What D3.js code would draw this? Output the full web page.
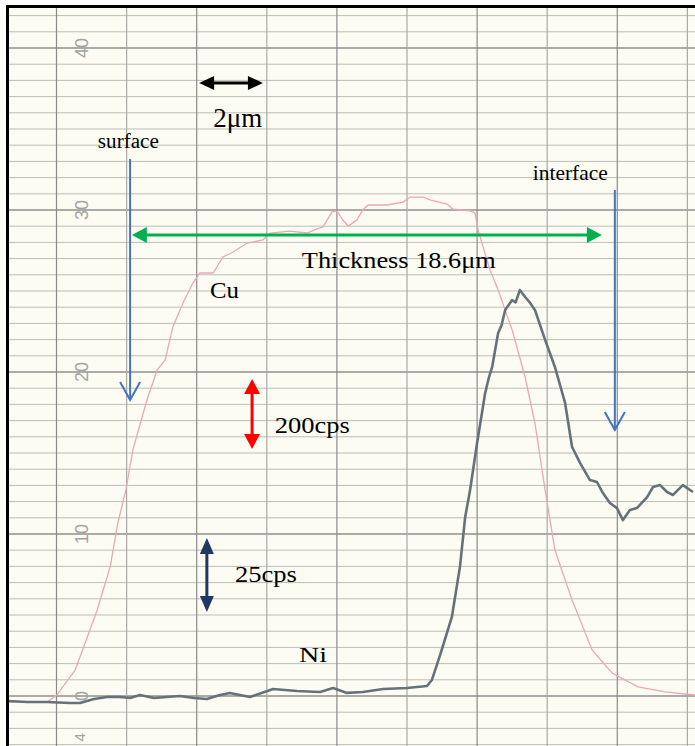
<!DOCTYPE html>
<html>
<head>
<meta charset="utf-8">
<script src="https://cdn.jsdelivr.net/npm/d3@7/dist/d3.min.js"></script>
<style>
  body { margin: 0; background: #fff; }
  svg { display: block; }
</style>
</head>
<body>
<svg id="chart"></svg>
<script>
// depth in µm (2 µm per chart division), signal in chart divisions
const cuX = [-1.41, -0.84, -0.27, 0.01, 0.53, 0.67, 1.16, 1.53, 1.75, 1.98, 2.18, 2.58, 2.87, 3.10, 3.32, 3.61, 3.89, 4.09, 4.47, 4.75, 5.04, 5.44, 5.89, 6.09, 6.66, 7.15, 7.43, 7.60, 7.72, 7.86, 8.00, 8.17, 8.32, 8.57, 8.74, 8.89, 9.43, 9.89, 10.09, 10.46, 10.66, 11.14, 11.31, 11.80, 11.94, 12.03, 12.17, 12.37, 12.60, 13.00, 13.37, 13.65, 13.94, 14.22, 14.71, 15.28, 15.85, 16.59, 17.36, 18.22];
const cuY = [-0.37, -0.37, -0.37, 0.06, 1.60, 2.41, 5.31, 7.96, 10.68, 12.72, 15.19, 18.27, 20.12, 20.74, 22.78, 24.26, 25.49, 26.11, 26.11, 27.10, 27.41, 27.96, 28.15, 28.58, 28.70, 28.58, 28.83, 28.95, 29.38, 29.88, 29.94, 29.38, 29.01, 29.38, 30.00, 30.31, 30.31, 30.49, 30.80, 30.80, 30.62, 30.37, 30.06, 29.94, 29.81, 28.77, 27.72, 26.30, 25.06, 22.59, 19.69, 16.85, 12.72, 9.01, 5.93, 2.84, 1.42, 0.56, 0.25, 0.06];

const niX = [-1.41, -0.84, -0.27, 0.39, 0.67, 1.07, 1.44, 1.81, 2.10, 2.38, 2.78, 3.15, 3.52, 3.92, 4.29, 4.66, 4.95, 5.52, 6.18, 6.86, 7.52, 7.89, 8.29, 8.74, 9.32, 10.00, 10.57, 10.71, 10.85, 10.99, 11.28, 11.51, 11.66, 11.80, 12.00, 12.23, 12.33, 12.43, 12.60, 12.70, 12.80, 13.00, 13.10, 13.22, 13.37, 13.50, 13.65, 13.94, 14.22, 14.51, 14.71, 14.94, 15.22, 15.42, 15.59, 15.79, 15.99, 16.16, 16.36, 16.56, 16.85, 17.02, 17.22, 17.42, 17.59, 17.87, 18.16];
const niY = [-0.31, -0.37, -0.37, -0.43, -0.43, -0.19, -0.06, -0.06, -0.12, 0.06, -0.12, -0.06, 0.00, -0.12, -0.19, 0.06, 0.19, -0.06, 0.43, 0.31, 0.25, 0.49, 0.19, 0.25, 0.43, 0.49, 0.62, 0.99, 1.91, 2.84, 4.88, 7.96, 11.05, 12.72, 15.62, 18.70, 19.60, 20.31, 22.41, 22.90, 23.83, 24.44, 24.30, 25.06, 24.63, 24.30, 23.83, 21.98, 20.31, 18.09, 15.37, 14.38, 13.33, 13.21, 12.53, 11.91, 11.60, 10.86, 11.48, 11.60, 12.28, 12.90, 13.02, 12.59, 12.41, 13.02, 12.59];

const yTickValues = [0, 10, 20, 30, 40];
const yTickLabels = ["0", "10", "20", "30", "40"];

const W = 695, H = 746;
const paper = {left: 8, top: 7, right: 695, bottom: 746};

const svg = d3.select("#chart").attr("width", W).attr("height", H);

const xScale = d3.scaleLinear().domain([0, 18]).range([56.5, 687.4]);
const yScale = d3.scaleLinear().domain([0, 40]).range([696, 48]);

svg.append("defs").append("clipPath").attr("id", "clip")
  .append("rect")
  .attr("x", paper.left).attr("y", paper.top)
  .attr("width", paper.right - paper.left).attr("height", paper.bottom - paper.top);

svg.append("rect")
  .attr("x", paper.left).attr("y", paper.top)
  .attr("width", paper.right - paper.left).attr("height", paper.bottom - paper.top)
  .attr("fill", "#fcfcf3");

const g = svg.append("g").attr("clip-path", "url(#clip)");

// horizontal rulings
g.selectAll(".hline")
  .data(d3.range(-3, 43))
  .enter().append("line")
  .attr("x1", paper.left).attr("x2", paper.right)
  .attr("y1", d => yScale(d)).attr("y2", d => yScale(d))
  .attr("stroke", d => d % 10 === 0 ? "#8f8f8f" : "#bdbdb8")
  .attr("stroke-width", d => d % 10 === 0 ? 1.6 : 1);

// vertical rulings every 2 µm
g.selectAll(".vline")
  .data(d3.range(-2, 20, 2))
  .enter().append("line")
  .attr("y1", paper.top).attr("y2", paper.bottom)
  .attr("x1", d => xScale(d)).attr("x2", d => xScale(d))
  .attr("stroke", d => d % 4 === 0 ? "#8a8a8a" : "#a9a9a6")
  .attr("stroke-width", 1.2);

// printed scale numbers
g.selectAll(".ylab")
  .data(yTickValues)
  .enter().append("text")
  .attr("transform", d => `translate(82, ${yScale(d)}) rotate(-90)`)
  .attr("text-anchor", "middle")
  .attr("dy", "0.35em")
  .attr("font-family", "Liberation Sans, sans-serif")
  .attr("font-size", 18)
  .attr("fill", "#a3a3a3")
  .text((d, i) => yTickLabels[i]);

g.append("text")
  .attr("transform", `translate(80, ${yScale(-2.55)}) rotate(-90)`)
  .attr("text-anchor", "middle")
  .attr("dy", "0.35em")
  .attr("font-family", "Liberation Sans, sans-serif")
  .attr("font-size", 15)
  .attr("fill", "#a3a3a3")
  .text("4");

const line = d3.line()
  .x(d => xScale(d[0]))
  .y(d => yScale(d[1]));

const cu = d3.zip(cuX, cuY);
const ni = d3.zip(niX, niY);

g.append("path")
  .datum(cu)
  .attr("d", line)
  .attr("fill", "none")
  .attr("stroke", "#e8a9b1")
  .attr("stroke-width", 1.3);

g.append("path")
  .datum(ni)
  .attr("d", line)
  .attr("fill", "none")
  .attr("stroke", "#65727a")
  .attr("stroke-width", 2.6)
  .attr("stroke-linejoin", "round");

// frame (left + top)
svg.append("path")
  .attr("d", `M${paper.left - 0.5},${H} V${paper.top - 0.5} H${W}`)
  .attr("fill", "none")
  .attr("stroke", "#000")
  .attr("stroke-width", 3);

// annotations
function doubleArrow(x1, y1, x2, y2, color, w, len, half) {
  const px1 = xScale(x1), py1 = yScale(y1), px2 = xScale(x2), py2 = yScale(y2);
  const dx = px2 - px1, dy = py2 - py1, L = Math.hypot(dx, dy);
  const ux = dx / L, uy = dy / L, nx = -uy, ny = ux;
  svg.append("line")
    .attr("x1", px1 + ux * len * 0.8).attr("y1", py1 + uy * len * 0.8)
    .attr("x2", px2 - ux * len * 0.8).attr("y2", py2 - uy * len * 0.8)
    .attr("stroke", color).attr("stroke-width", w);
  [[px1, py1, 1], [px2, py2, -1]].forEach(([tx, ty, s]) => {
    const bx = tx + s * ux * len, by = ty + s * uy * len;
    svg.append("path")
      .attr("d", `M${tx},${ty} L${bx + nx * half},${by + ny * half} L${bx - nx * half},${by - ny * half} Z`)
      .attr("fill", color);
  });
}

function downArrow(x, y1, y2) {
  const px = xScale(x), p1 = yScale(y1), p2 = yScale(y2);
  svg.append("line")
    .attr("x1", px).attr("x2", px).attr("y1", p1).attr("y2", p2)
    .attr("stroke", "#4472c4").attr("stroke-width", 2);
  svg.append("path")
    .attr("d", `M${px - 10},${p2 - 18} L${px},${p2} L${px + 10},${p2 - 18}`)
    .attr("fill", "none").attr("stroke", "#4472c4").attr("stroke-width", 2);
}

function label(x, y, txt, size, len) {
  svg.append("text")
    .attr("x", xScale(x)).attr("y", yScale(y))
    .attr("font-family", "Liberation Serif, Times New Roman, serif")
    .attr("font-size", size)
    .attr("fill", "#000")
    .attr("textLength", len)
    .attr("lengthAdjust", "spacingAndGlyphs")
    .text(txt);
}

doubleArrow(4.07, 37.84, 5.89, 37.84, "#000", 3, 15, 7);
label(4.47, 35.12, "2μm", 27, 49);

label(1.18, 33.83, "surface", 20, 61);
downArrow(2.10, 33.15, 18.27);

label(13.59, 31.85, "interface", 21, 75);
downArrow(15.93, 31.23, 16.42);

doubleArrow(2.15, 28.46, 15.56, 28.46, "#00b050", 3, 15, 8);
label(7.00, 26.42, "Thickness 18.6μm", 24, 194);

label(4.38, 24.57, "Cu", 24, 29);

doubleArrow(5.58, 19.57, 5.58, 15.25, "#ff0000", 3, 15, 8);
label(6.23, 16.23, "200cps", 24, 75);

doubleArrow(4.29, 9.75, 4.29, 5.19, "#1f3864", 3, 16, 7);
label(5.09, 7.04, "25cps", 24, 62);

label(6.92, 2.10, "Ni", 22, 28);
</script>
</body>
</html>
